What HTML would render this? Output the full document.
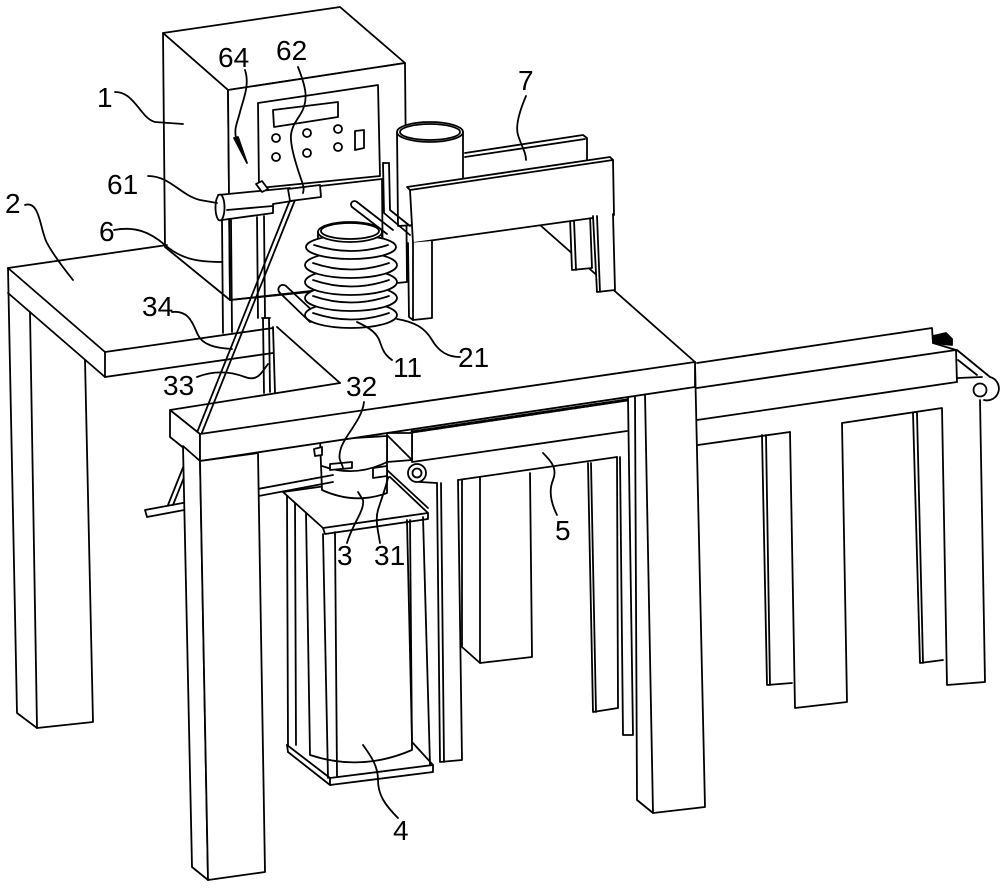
<!DOCTYPE html>
<html><head><meta charset="utf-8"><style>
html,body{margin:0;padding:0;background:#fff;}
svg{display:block}
text{font-family:"Liberation Sans",sans-serif;font-size:28px;fill:#000;stroke:none}
</style></head><body>
<svg width="1000" height="891" viewBox="0 0 1000 891" xmlns="http://www.w3.org/2000/svg">
<g fill="none" stroke="#000" stroke-width="1.8" stroke-linejoin="round" stroke-linecap="round">

<!-- ===== right conveyor ===== -->
<path d="M762,435 L767,685 L792,683"/>
<path d="M766,435 L770,685"/>
<path d="M913,413 L920,663 L943,660"/>
<path d="M917,413 L923,663"/>
<path d="M697,363 L932,328 L933,343 L956,350 L957,382"/>
<path d="M697,388 L956,350"/>
<path d="M697,420 L957,382"/>
<path d="M698,445 L790,432"/>
<path d="M790,432 L795,708 L847,702 L842,423 L942,408 L947,685 L985,682 L980,400"/>
<path d="M933,336 L946,333 L952,339 L952,345 L933,343 Z" fill="#000"/>
<path d="M957,350 L990,377 A11,11 0 0 1 984,400"/>
<path d="M958,360 L977,375"/>
<path d="M958,378 L982,377"/>
<circle cx="980" cy="390" r="6.5" fill="#fff"/>

<!-- ===== center conveyor legs ===== -->
<path d="M462,480 L462,647 L480,663 L532,657 L530,473"/>
<path d="M480,478 L480,663"/>
<path d="M588,463 L593,712 L618,708 L617,457"/>
<path d="M591,463 L596,712"/>
<path d="M620,457 L623,735 L633,735 L628,398"/>
<path d="M437,483 L440,762 L462,760 L458,480"/>
<path d="M441,483 L444,762"/>
<path d="M412,432 L627,400" stroke-width="3" stroke-dasharray="2.5,1.5"/>
<path d="M412,430 L412,462 L627,431"/>
<path d="M458,480 L617,457"/>
<path d="M387,433 L412,433 L412,460 L387,462 Z" fill="#fff"/>
<path d="M388,436 L411,459"/>
<circle cx="417" cy="473" r="9" fill="#fff"/>
<circle cx="417" cy="473" r="4.5"/>
<path d="M420,482 L437,483"/>

<!-- ===== main front-right leg ===== -->
<path d="M635,397 L637,800 L653,813 L705,807 L695,362" fill="#fff"/>
<path d="M645,394 L653,813"/>

<!-- ===== unit 4 ===== -->
<path d="M306,513 L310,755 Q361,772 412,750 L410,520"/>
<path d="M287,495 L288,745"/>
<path d="M295,500 L296,745"/>
<path d="M387,470 L428,508"/>
<path d="M283,492 L323,528 L428,513 L390,477 Z" fill="#fff"/>
<path d="M323,528 L325,534 L428,519 L428,513"/>
<path d="M323,534 L328,778"/>
<path d="M335,532 L337,776"/>
<path d="M407,520 L412,740"/>
<path d="M423,517 L430,765"/>
<path d="M287,745 L330,778 L433,765 L412,742"/>
<path d="M288,752 L330,785 L433,772 L433,765"/>
<path d="M287,745 L288,752"/>
<path d="M330,778 L330,785"/>

<!-- motor 3 -->
<path d="M320,440 L322,490 Q355,505 387,493 L387,436 Z" fill="#fff"/>
<path d="M322,466 Q355,478 387,462"/>
<path d="M330,464 L352,462 L352,468 L330,470 Z" fill="#fff"/>
<path d="M314,449 L322,447 L322,455 L315,456 Z" fill="#fff"/>
<path d="M373,468 L387,466 L387,476 L373,478 Z" fill="#fff"/>

<!-- ===== control box 1 ===== -->
<path d="M163,33 L340,7 L405,63 L228,90 Z" fill="#fff"/>
<path d="M163,33 L228,90 L230,300 L165,247 Z" fill="#fff"/>
<path d="M228,90 L405,63 L407,282 L230,300 Z" fill="#fff"/>
<path d="M258,103 L378,85 L380,176 L259,188 Z"/>
<path d="M273,110 L338,102 L338,117 L274,127 Z"/>
<circle cx="276" cy="138" r="4"/><circle cx="307" cy="133" r="4"/><circle cx="338" cy="129" r="4"/>
<circle cx="276" cy="157" r="4"/><circle cx="307" cy="153" r="4"/><circle cx="338" cy="147" r="4"/>
<path d="M355,131 L364,130 L364,148 L355,150 Z"/>
<path d="M232,196 L382,179 L383,290"/>
<path d="M230,300 L383,283"/>

<!-- ===== frame 7 ===== -->
<path d="M465,153 L583,135 L587,138 L587,162"/>
<path d="M465,157 L585,139"/>
<path d="M540,225 L695,362"/>
<path d="M570,218 L590,215 L592,268 L572,270 Z" fill="#fff"/>
<path d="M574,220 L576,270"/>
<path d="M397,132 L398,226 L463,222 L463,132" fill="#fff"/>
<ellipse cx="430" cy="132" rx="33" ry="10" fill="#fff"/>
<ellipse cx="430" cy="132" rx="30" ry="8"/>
<path d="M383,163 L384,213 L410,235"/>
<path d="M389,163 L390,210 L410,226"/>
<path d="M383,163 L389,163"/>
<path d="M407,187 L610,157 L613,160 L614,215 L413,243 L410,190 Z" fill="#fff"/>
<path d="M410,190 L613,160"/>
<path d="M408,243 L409,317 L413,320 L432,318 L432,241" fill="#fff"/>
<path d="M413,243 L413,320"/>
<path d="M593,216 L597,292 L615,290 L613,214" fill="#fff"/>
<path d="M597,216 L600,292"/>

<!-- ===== coil 21 / tube 11 ===== -->
<path d="M280,293 L310,322 M286,286 L317,315"/>
<path d="M280,293 A4.5,4.5 0 0 1 286,286"/>
<ellipse cx="351" cy="315" rx="46" ry="13" fill="#fff"/>
<path d="M313,313 Q351,326 389,313"/>
<ellipse cx="351" cy="298" rx="46" ry="13" fill="#fff"/>
<path d="M313,296 Q351,309 389,296"/>
<ellipse cx="351" cy="282" rx="46" ry="13" fill="#fff"/>
<path d="M313,280 Q351,293 389,280"/>
<ellipse cx="351" cy="265" rx="46" ry="13" fill="#fff"/>
<path d="M313,263 Q351,276 389,263"/>
<path d="M318,232 L318,246 L382,246 L382,232" fill="#fff"/>
<ellipse cx="351" cy="247" rx="45" ry="12" fill="#fff"/>
<path d="M314,245 Q351,257 388,245"/>
<ellipse cx="350" cy="232" rx="32" ry="10" fill="#fff"/>
<ellipse cx="350" cy="231" rx="29" ry="8"/>
<path d="M357,202 L393,230 M352,207 L387,234"/>
<path d="M352,207 A3.5,3.5 0 0 1 357,202"/>

<!-- ===== posts, rod 33 ===== -->
<path d="M222,220 L223,333 M231,220 L232,332"/>
<path d="M257,217 L258,318 M264,216 L265,318"/>
<path d="M262,318 L270,318 M263,318 L264,393 M269,318 L270,392"/>

<!-- ===== rod 6 ===== -->
<path d="M290,200 L168,505 M295,200 L173,505"/>

<!-- ===== torch 61/62 ===== -->
<path d="M218,195 L290,188 L292,201 L273,204 L273,213 L222,220" fill="#fff"/>
<ellipse cx="220" cy="207.5" rx="4.5" ry="13" fill="#fff"/>
<path d="M227,210 L273,206"/>
<path d="M288,189 L320,185 L321,197 L290,201 Z" fill="#fff"/>
<path d="M256,184 L262,181 L268,189 L262,192 Z" fill="#fff"/>

<!-- ===== left table 2 ===== -->
<path d="M8,268 L167,245"/>
<path d="M8,268 L105,352 L273,328"/>
<path d="M105,352 L105,377 L273,353"/>
<path d="M8,293 L105,377"/>
<path d="M8,268 L17,713 L37,728 L93,722 L85,360"/>
<path d="M30,312 L37,728"/>
<path d="M273,327 L275,393 M277,327 L340,383"/>

<!-- bottom bar -->
<path d="M145,510 L333,475 M147,517 L333,482 M145,510 L147,517"/>

<!-- ===== front beam & front-left leg ===== -->
<path d="M170,410 L200,434 L200,461 L170,437 Z" fill="#fff"/>
<path d="M200,434 L695,362 L695,387 L200,461 Z" fill="#fff"/>
<path d="M170,410 L340,383"/>
<path d="M183,446 L200,461 L208,880 L192,867 Z" fill="#fff"/>
<path d="M200,461 L258,453 L265,872 L208,880 Z" fill="#fff"/>

<!-- ===== leaders ===== -->
<path d="M115,92 C135,92 140,118 155,122 L183,124"/>
<path d="M25,205 C40,200 40,230 47,243 S65,270 73,280"/>
<path d="M114,230 C135,226 150,232 165,245 S195,262 222,262"/>
<path d="M148,176 C170,176 180,195 200,200 L217,203"/>
<path d="M172,312 C190,310 193,325 198,335 S215,348 232,349"/>
<path d="M197,377 C215,370 232,372 245,377 S262,372 268,364"/>
<path d="M364,402 C362,420 345,435 341,448 S342,462 343,468"/>
<path d="M347,543 C352,525 365,510 363,500 L358,492"/>
<path d="M380,543 C378,530 375,520 378,510 S385,490 388,478"/>
<path d="M398,818 C385,805 378,795 378,780 S370,755 363,745"/>
<path d="M543,453 C550,460 558,468 553,480 S552,505 557,515"/>
<path d="M526,96 C520,110 515,125 518,135 S526,152 526,160"/>
<path d="M357,322 C370,328 377,333 380,342 S385,355 392,360"/>
<path d="M397,319 C415,322 425,328 432,340 S448,357 460,357"/>
<path d="M298,67 C305,85 310,100 300,115 S288,135 295,160 S305,185 303,193"/>
<path d="M245,70 C250,85 243,100 240,112 S234,128 236,138"/>
<path d="M234,138 L247,163 L238,137 Z" fill="#000"/>
</g>

<!-- ===== labels ===== -->
<text x="97" y="107">1</text>
<text x="5" y="213">2</text>
<text x="99" y="241">6</text>
<text x="107" y="194">61</text>
<text x="218" y="67">64</text>
<text x="276" y="60">62</text>
<text x="518" y="90">7</text>
<text x="142" y="316">34</text>
<text x="163" y="395">33</text>
<text x="346" y="396">32</text>
<text x="393" y="377">11</text>
<text x="458" y="367">21</text>
<text x="337" y="565">3</text>
<text x="374" y="565">31</text>
<text x="555" y="540">5</text>
<text x="393" y="840">4</text>
</svg>
</body></html>
